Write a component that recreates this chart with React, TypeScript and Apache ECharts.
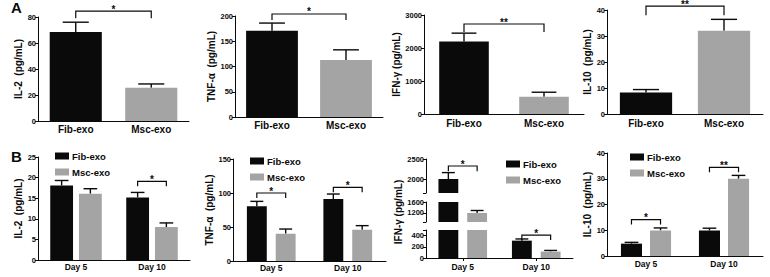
import { useEffect, useRef } from 'react';
import * as echarts from 'echarts';

const FONT = '"Liberation Sans", Arial, Helvetica, sans-serif';
const BLACK = '#0a0a0a';
const GRAY = '#a4a4a4';

const groups = ['Fib-exo', 'Msc-exo'];
const days = ['Day 5', 'Day 10'];

// ---------- Panel A: mean and SEM per group ----------
const il2A = [68.5, 25.5];
const il2ASem = [7.5, 3];
const tnfA = [171, 113];
const tnfASem = [15, 20];
const ifnA = [2200, 520];
const ifnASem = [250, 140];
const il10A = [8.3, 32];
const il10ASem = [1.1, 4.4];

// ---------- Panel B: values at [Day 5, Day 10] ----------
const il2BFib = [18.1, 15.2];
const il2BFibSem = [1.2, 1.2];
const il2BMsc = [16.1, 8.0];
const il2BMscSem = [1.2, 1.0];
const tnfBFib = [80.4, 91.2];
const tnfBFibSem = [7.3, 7.3];
const tnfBMsc = [40.2, 46];
const tnfBMscSem = [6.8, 6];
const ifnBFib = [2000, 310];
const ifnBFibSem = [160, 30];
const ifnBMsc = [1200, 115];
const ifnBMscSem = [90, 20];
const il10BFib = [4.8, 9.9];
const il10BFibSem = [0.5, 0.9];
const il10BMsc = [9.9, 30];
const il10BMscSem = [1.0, 1.3];

// ---------- significance brackets: [fromCat, fromSeries, toCat, toSeries, level, legEnd] ----------
const il2ASig = [[0, 0, 1, 0, 84.5, 79]];
const il2AMarks = ['*'];
const tnfASig = [[0, 0, 1, 0, 204, 192]];
const tnfAMarks = ['*'];
const ifnASig = [[0, 0, 1, 0, 2727, 2485]];
const ifnAMarks = ['**'];
const il10ASig = [[0, 0, 1, 0, 41.5, 38]];
const il10AMarks = ['**'];

const il2BSig = [[1, 0, 1, 1, 19.1, 17.9]];
const il2BMarks = ['*'];
const tnfBSig = [[0, 0, 0, 1, 100, 92.6], [1, 0, 1, 1, 108.4, 101]];
const tnfBMarks = ['*', '*'];
const ifnBSig = [[0, 0, 0, 1, 2325, 2192], [1, 0, 1, 1, 410, 321]];
const ifnBMarks = ['*', '*'];
const il10BSig = [[0, 0, 0, 1, 14.1, 12.2], [1, 0, 1, 1, 34.4, 32.5]];
const il10BMarks = ['*', '**'];

// ---------- broken axis of IFN-γ (panel B) ----------
const ifnTopRange = [1650, 2500];
const ifnTopLabels = [2000, 2500];
const ifnMidRange = [870, 1600];
const ifnMidLabels = [1200, 1600];
const ifnLowRange = [0, 500];
const ifnLowLabels = [0, 200, 400];

type Layout = { n: number; w: number; g: number };

function barOffset(band: number, s: number, L: Layout) {
  const bw = band * L.w;
  const gap = bw * L.g;
  const total = L.n * bw + (L.n - 1) * gap;
  return -total / 2 + s * (bw + gap) + bw / 2;
}

interface PanelCfg {
  grid: { left: number; top: number; width: number; height: number };
  cats: string[];
  catSize: number;
  catMargin: number;
  showX: boolean;
  xTick?: boolean;
  yMin: number;
  yMax: number;
  interval?: number;
  labelValues?: number[];
  tickValues?: number[];
  name?: string;
  nameGap?: number;
  layout: Layout;
  bars: any[];
  means: number[][];
  sems: number[][];
  sig: number[][];
  marks: string[];
  cap: number;
  filter?: boolean;
}

function App() {
  const ref = useRef<HTMLDivElement>(null);

  useEffect(() => {
    document.body.style.margin = '0';
    if (!ref.current) return;
    const chart = echarts.init(ref.current, undefined, { renderer: 'svg' });

    const grids: any[] = [];
    const xAxes: any[] = [];
    const yAxes: any[] = [];
    const series: any[] = [];
    const axisLine = { show: true, lineStyle: { color: BLACK, width: 1 } };

    const addPanel = (cfg: PanelCfg) => {
      const gi = grids.length;
      grids.push({ ...cfg.grid, containLabel: false, outerBoundsMode: 'none' });
      xAxes.push({
        gridIndex: gi,
        type: 'category',
        data: cfg.cats,
        show: cfg.showX,
        axisLine,
        axisTick: { show: !!cfg.xTick, alignWithLabel: true, length: 3, lineStyle: { color: BLACK } },
        axisLabel: {
          fontFamily: FONT,
          fontWeight: 'bold',
          fontSize: cfg.catSize,
          color: BLACK,
          margin: cfg.catMargin,
        },
        splitLine: { show: false },
      });
      const tick: any = { show: true, length: 3, lineStyle: { color: BLACK, width: 1 } };
      if (cfg.tickValues) tick.customValues = cfg.tickValues;
      const label: any = {
        fontFamily: FONT,
        fontWeight: 'bold',
        fontSize: 7.5,
        color: BLACK,
        margin: 2,
        formatter: (v: number) => String(v),
      };
      if (cfg.labelValues) label.customValues = cfg.labelValues;
      const y: any = {
        gridIndex: gi,
        type: 'value',
        min: cfg.yMin,
        max: cfg.yMax,
        axisLine,
        axisTick: tick,
        axisLabel: label,
        splitLine: { show: false },
      };
      if (cfg.interval) y.interval = cfg.interval;
      if (cfg.name) {
        y.name = cfg.name;
        y.nameLocation = 'middle';
        y.nameGap = cfg.nameGap;
        y.nameRotate = 90;
        y.nameTextStyle = { fontFamily: FONT, fontWeight: 'bold', fontSize: 10, color: BLACK };
      }
      yAxes.push(y);

      const L = cfg.layout;
      cfg.bars.forEach((b) =>
        series.push({
          type: 'bar',
          xAxisIndex: gi,
          yAxisIndex: gi,
          barWidth: `${L.w * 100}%`,
          barGap: `${L.g * 100}%`,
          clip: true,
          silent: true,
          ...b,
        })
      );

      const inRange = (v: number) => !cfg.filter || (v >= cfg.yMin && v <= cfg.yMax);
      const errRows: number[][] = [];
      cfg.means.forEach((m, s) =>
        m.forEach((v, c) => {
          const top = v + cfg.sems[s][c];
          if (inRange(top)) errRows.push([c, s, v, top]);
        })
      );
      series.push({
        type: 'custom',
        name: `err${gi}`,
        xAxisIndex: gi,
        yAxisIndex: gi,
        silent: true,
        encode: { x: 0, y: [2, 3] },
        data: errRows,
        renderItem: (_p: any, api: any) => {
          const c = api.value(0);
          const s = api.value(1);
          const band = api.size([1, 0])[0];
          const bw = band * L.w;
          const p0 = api.coord([c, api.value(2)]);
          const p1 = api.coord([c, api.value(3)]);
          const x = p0[0] + barOffset(band, s, L);
          const half = (bw * cfg.cap) / 2;
          const st = { stroke: BLACK, lineWidth: 1.4 };
          return {
            type: 'group',
            children: [
              { type: 'line', shape: { x1: x, y1: p0[1], x2: x, y2: p1[1] }, style: st },
              { type: 'line', shape: { x1: x - half, y1: p1[1], x2: x + half, y2: p1[1] }, style: st },
            ],
          };
        },
      });

      const sigRows: number[][] = [];
      const sigMarks: string[] = [];
      cfg.sig.forEach((r, i) => {
        if (inRange(r[4])) {
          sigRows.push(r);
          sigMarks.push(cfg.marks[i]);
        }
      });
      if (sigRows.length) {
        series.push({
          type: 'custom',
          name: `sig${gi}`,
          xAxisIndex: gi,
          yAxisIndex: gi,
          silent: true,
          encode: { x: 0, y: 4 },
          data: sigRows,
          renderItem: (p: any, api: any) => {
            const band = api.size([1, 0])[0];
            const a = api.coord([api.value(0), api.value(4)]);
            const b = api.coord([api.value(2), api.value(4)]);
            const xa = a[0] + barOffset(band, api.value(1), L);
            const xb = b[0] + barOffset(band, api.value(3), L);
            const yl = api.coord([api.value(0), api.value(5)])[1];
            return {
              type: 'group',
              children: [
                {
                  type: 'polyline',
                  shape: { points: [[xa, yl], [xa, a[1]], [xb, a[1]], [xb, yl]] },
                  style: { stroke: BLACK, lineWidth: 1.2, fill: 'none' },
                },
                {
                  type: 'text',
                  x: (xa + xb) / 2,
                  y: a[1] - 2,
                  style: {
                    text: sigMarks[p.dataIndex],
                    fill: BLACK,
                    font: `bold 10px ${FONT}`,
                    align: 'center',
                    verticalAlign: 'middle',
                  },
                },
              ],
            };
          },
        });
      }
    };

    const singleBars = (name: string, vals: number[]) => [
      {
        name,
        data: vals.map((v, i) => ({ value: v, itemStyle: { color: i === 0 ? BLACK : GRAY } })),
      },
    ];
    const pairBars = (fib: number[], msc: number[]) => [
      { name: groups[0], data: fib, itemStyle: { color: BLACK } },
      { name: groups[1], data: msc, itemStyle: { color: GRAY } },
    ];

    // ---------- Row A ----------
    addPanel({
      grid: { left: 38, top: 17, width: 151, height: 104 },
      cats: groups, catSize: 10, catMargin: 3, showX: true,
      yMin: 0, yMax: 80, interval: 20, name: 'IL-2  (pg/mL)', nameGap: 14,
      layout: { n: 1, w: 0.69, g: 0 }, bars: singleBars('A-IL-2', il2A),
      means: [il2A], sems: [il2ASem], sig: il2ASig, marks: il2AMarks, cap: 0.5,
    });
    addPanel({
      grid: { left: 235, top: 16, width: 148, height: 101 },
      cats: groups, catSize: 10, catMargin: 3, showX: true,
      yMin: 0, yMax: 200, interval: 50, name: 'TNF-α  (pg/mL)', nameGap: 18,
      layout: { n: 1, w: 0.7, g: 0 }, bars: singleBars('A-TNF', tnfA),
      means: [tnfA], sems: [tnfASem], sig: tnfASig, marks: tnfAMarks, cap: 0.5,
    });
    addPanel({
      grid: { left: 424, top: 15, width: 160, height: 99 },
      cats: groups, catSize: 10, catMargin: 4, showX: true,
      yMin: 0, yMax: 3000, interval: 1000, name: 'IFN-γ (pg/mL)', nameGap: 22,
      layout: { n: 1, w: 0.62, g: 0 }, bars: singleBars('A-IFN', ifnA),
      means: [ifnA], sems: [ifnASem], sig: ifnASig, marks: ifnAMarks, cap: 0.5,
    });
    addPanel({
      grid: { left: 607, top: 10, width: 156, height: 104 },
      cats: groups, catSize: 10, catMargin: 4, showX: true,
      yMin: 0, yMax: 40, interval: 10, name: 'IL-10  (pg/mL)', nameGap: 12,
      layout: { n: 1, w: 0.67, g: 0 }, bars: singleBars('A-IL-10', il10A),
      means: [il10A], sems: [il10ASem], sig: il10ASig, marks: il10AMarks, cap: 0.5,
    });

    // ---------- Row B ----------
    addPanel({
      grid: { left: 38, top: 157, width: 152, height: 103 },
      cats: days, catSize: 8.5, catMargin: 2, showX: true,
      yMin: 0, yMax: 25, interval: 5, name: 'IL-2  (pg/mL)', nameGap: 15,
      layout: { n: 2, w: 0.3, g: 0.26 }, bars: pairBars(il2BFib, il2BMsc),
      means: [il2BFib, il2BMsc], sems: [il2BFibSem, il2BMscSem], sig: il2BSig, marks: il2BMarks, cap: 0.6,
    });
    addPanel({
      grid: { left: 233, top: 159, width: 153, height: 102 },
      cats: days, catSize: 8.5, catMargin: 2, showX: true,
      yMin: 0, yMax: 150, interval: 50, name: 'TNF-α  (pg/mL)', nameGap: 16,
      layout: { n: 2, w: 0.26, g: 0.45 }, bars: pairBars(tnfBFib, tnfBMsc),
      means: [tnfBFib, tnfBMsc], sems: [tnfBFibSem, tnfBMscSem], sig: tnfBSig, marks: tnfBMarks, cap: 0.65,
    });
    const ifnLayout = { n: 2, w: 0.27, g: 0.45 };
    addPanel({
      grid: { left: 426, top: 159, width: 147, height: 34 },
      cats: days, catSize: 8.5, catMargin: 2, showX: false,
      yMin: ifnTopRange[0], yMax: ifnTopRange[1], labelValues: ifnTopLabels,
      tickValues: [ifnTopRange[0], ...ifnTopLabels],
      layout: ifnLayout, bars: pairBars(ifnBFib, ifnBMsc),
      means: [ifnBFib, ifnBMsc], sems: [ifnBFibSem, ifnBMscSem], sig: ifnBSig, marks: ifnBMarks,
      cap: 0.65, filter: true,
    });
    addPanel({
      grid: { left: 426, top: 202, width: 147, height: 20 },
      cats: days, catSize: 8.5, catMargin: 2, showX: false,
      yMin: ifnMidRange[0], yMax: ifnMidRange[1], labelValues: ifnMidLabels,
      tickValues: [ifnMidRange[0], ...ifnMidLabels],
      name: 'IFN-γ (pg/mL)', nameGap: 23,
      layout: ifnLayout, bars: pairBars(ifnBFib, ifnBMsc),
      means: [ifnBFib, ifnBMsc], sems: [ifnBFibSem, ifnBMscSem], sig: ifnBSig, marks: ifnBMarks,
      cap: 0.65, filter: true,
    });
    addPanel({
      grid: { left: 426, top: 230, width: 147, height: 28 },
      cats: days, catSize: 8.5, catMargin: 4, showX: true, xTick: true,
      yMin: ifnLowRange[0], yMax: ifnLowRange[1], labelValues: ifnLowLabels,
      tickValues: [...ifnLowLabels, ifnLowRange[1]],
      layout: ifnLayout, bars: pairBars(ifnBFib, ifnBMsc),
      means: [ifnBFib, ifnBMsc], sems: [ifnBFibSem, ifnBMscSem], sig: ifnBSig, marks: ifnBMarks,
      cap: 0.65, filter: true,
    });
    addPanel({
      grid: { left: 607, top: 153, width: 156, height: 103 },
      cats: days, catSize: 8.5, catMargin: 3, showX: true,
      yMin: 0, yMax: 40, interval: 10, name: 'IL-10  (pg/mL)', nameGap: 12,
      layout: { n: 2, w: 0.27, g: 0.38 }, bars: pairBars(il10BFib, il10BMsc),
      means: [il10BFib, il10BMsc], sems: [il10BFibSem, il10BMscSem], sig: il10BSig, marks: il10BMarks, cap: 0.65,
    });

    const legendAt = (left: number, top: number) => ({
      left,
      top,
      orient: 'vertical',
      icon: 'rect',
      itemWidth: 14,
      itemHeight: 7,
      itemGap: 6,
      padding: 0,
      selectedMode: false,
      data: groups,
      textStyle: { fontFamily: FONT, fontWeight: 'bold', fontSize: 9.5, color: BLACK, padding: [0, 0, 0, -2] },
    });

    chart.setOption({
      animation: false,
      backgroundColor: '#ffffff',
      grid: grids,
      xAxis: xAxes,
      yAxis: yAxes,
      series,
      legend: [legendAt(55, 151), legendAt(250, 156), legendAt(506, 159), legendAt(630, 152)],
      graphic: [
        {
          type: 'text',
          x: 11,
          y: 0,
          style: { text: 'A', font: `bold 15px ${FONT}`, fill: BLACK, verticalAlign: 'top' },
        },
        {
          type: 'text',
          x: 11,
          y: 149,
          style: { text: 'B', font: `bold 15px ${FONT}`, fill: BLACK, verticalAlign: 'top' },
        },
      ],
    });

    return () => chart.dispose();
  }, []);

  return (
    <div
      ref={ref}
      style={{ position: 'absolute', left: 0, top: 0, width: 770, height: 277, background: '#fff' }}
    />
  );
}

export default App;
